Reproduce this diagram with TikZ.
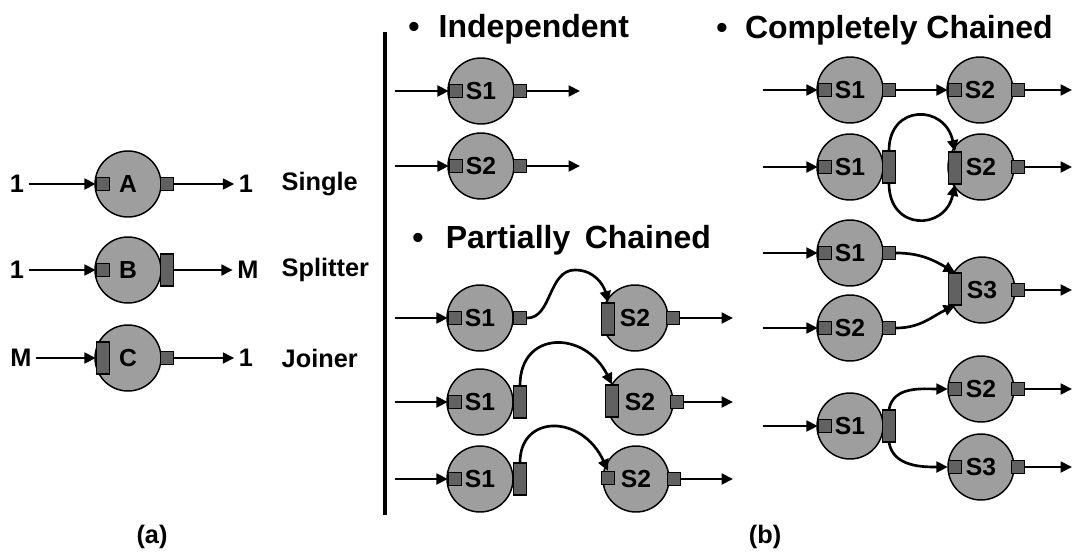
\documentclass[tikz,border=0pt]{standalone}
\usepackage{fontspec}
\setmainfont{Liberation Sans}
\usetikzlibrary{shapes}
\usetikzlibrary{arrows.meta}

\begin{document}
\begin{tikzpicture}[x=0.75pt,y=-0.75pt]
	\tikzstyle{stage}=[circle,draw,line width=1.1pt,fill=black!38,minimum size=49.5pt,inner sep=0pt,font=\bfseries\fontsize{18.5}{20}\selectfont]
	\tikzstyle{port}=[rectangle,draw,line width=0.8pt,fill=black!62,minimum width=10pt,minimum height=10pt,inner sep=0pt]
	\tikzstyle{wideport}=[port,minimum height=24pt]
	\tikzstyle{flow}=[-{Triangle[length=8.5pt,width=8pt]},line width=2pt]
	\tikzstyle{lbl}=[font=\bfseries\fontsize{19}{21}\selectfont]
	\tikzstyle{heading}=[anchor=base west,inner sep=0pt,font=\bfseries\fontsize{24}{27}\selectfont]
	\useasboundingbox (0,0) rectangle (1073,553);

	% (a) the three kinds of stage
	\node[stage] (A) at (128,184) {A};
	\node[port] (A-in) at (103,184) {};
	\node[port] (A-out) at (167,184) {};
	\node[lbl] (A-src) at (17,184) {1};
	\node[lbl] (A-dst) at (246,184) {1};
	\node[lbl,anchor=west] (A-kind) at (277,184) {Single};
	\draw[flow] (A-src) -- (A-in);
	\draw[flow] (A-out) -- (A-dst);

	\node[stage] (B) at (128,270) {B};
	\node[port] (B-in) at (103,270) {};
	\node[wideport] (B-out) at (167,270) {};
	\node[lbl] (B-src) at (17,270) {1};
	\node[lbl] (B-dst) at (248,270) {M};
	\node[lbl,anchor=west] (B-kind) at (277,270) {Splitter};
	\draw[flow] (B-src) -- (B-in);
	\draw[flow] (B-out) -- (B-dst);

	\node[stage] (C) at (128,358) {C};
	\node[wideport] (C-in) at (103,358) {};
	\node[port] (C-out) at (167,358) {};
	\node[lbl] (C-src) at (21,358) {M};
	\node[lbl] (C-dst) at (246,358) {1};
	\node[lbl,anchor=west] (C-kind) at (277,358) {Joiner};
	\draw[flow] (C-src) -- (C-in);
	\draw[flow] (C-out) -- (C-dst);

	\node[lbl] (tag-a) at (152,537) {(a)};

	\draw[line width=3pt] (385,32) -- (385,515);

	% (b) independent stages
	\node[heading] (h-ind) at (408,37) {\textbullet\hspace{0.6em}Independent};
	\foreach \n/\y/\t in {i1/91/S1,i2/166/S2}{
		\node[stage] (\n) at (481,\y) {\t};
		\node[port] (\n-in) at (456,\y) {};
		\node[port] (\n-out) at (520,\y) {};
		\coordinate (\n-src) at (395,\y);
		\coordinate (\n-dst) at (580,\y);
		\draw[flow] (\n-src) -- (\n-in);
		\draw[flow] (\n-out) -- (\n-dst);
	}

	% partially chained
	\node[heading] (h-part) at (412,248) {\textbullet\hspace{0.7em}Partially\hspace{0.45em}Chained};

	\node[stage] (p1a) at (480,318) {S1};
	\node[port] (p1a-in) at (455,318) {};
	\node[port] (p1a-out) at (520,318) {};
	\node[stage] (p1b) at (635,318) {S2};
	\node[wideport] (p1b-in) at (608,319) {};
	\node[port] (p1b-out) at (673,318) {};

	\node[stage] (p2a) at (480,402) {S1};
	\node[port] (p2a-in) at (455,402) {};
	\node[wideport] (p2a-out) at (520,402) {};
	\node[stage] (p2b) at (640,402) {S2};
	\node[wideport] (p2b-in) at (612,401) {};
	\node[port] (p2b-out) at (677,402) {};

	\node[stage] (p3a) at (480,479) {S1};
	\node[port] (p3a-in) at (455,479) {};
	\node[wideport] (p3a-out) at (520,479) {};
	\node[stage] (p3b) at (636,479) {S2};
	\node[port] (p3b-in) at (608,478) {};
	\node[port] (p3b-out) at (674,479) {};

	\foreach \r/\y in {p1/318,p2/402,p3/479}{
		\coordinate (\r-src) at (395,\y);
		\coordinate (\r-dst) at (733,\y);
		\draw[flow] (\r-src) -- (\r a-in);
		\draw[flow] (\r b-out) -- (\r-dst);
	}
	\draw[flow] (p1a-out.east) .. controls (552,318) and (548,270) .. (575,270)
		.. controls (595,270) and (604,286) .. (p1b-in.north);
	\draw[flow] (p2a-out.north) .. controls (520,330) and (585,330) .. (p2b-in.north);
	\draw[flow] (p3a-out.north) .. controls (520,414) and (582,414) .. (p3b-in.north);

	% completely chained
	\node[heading] (h-comp) at (716,38) {\textbullet\hspace{0.55em}Completely Chained};

	\node[stage] (c1a) at (850,90) {S1};
	\node[port] (c1a-in) at (825,90) {};
	\node[port] (c1a-out) at (889,90) {};
	\node[stage] (c1b) at (980,90) {S2};
	\node[port] (c1b-in) at (955,90) {};
	\node[port] (c1b-out) at (1018,90) {};
	\coordinate (c1-src) at (763,90);
	\coordinate (c1-dst) at (1072,90);
	\draw[flow] (c1-src) -- (c1a-in);
	\draw[flow] (c1a-out) -- (c1b-in);
	\draw[flow] (c1b-out) -- (c1-dst);

	\node[stage] (c2a) at (850,167) {S1};
	\node[port] (c2a-in) at (825,167) {};
	\node[wideport] (c2a-out) at (889,167) {};
	\node[stage] (c2b) at (981,167) {S2};
	\node[wideport] (c2b-in) at (955,168) {};
	\node[port] (c2b-out) at (1018,167) {};
	\coordinate (c2-src) at (763,167);
	\coordinate (c2-dst) at (1072,167);
	\draw[flow] (c2-src) -- (c2a-in);
	\draw[flow] (c2b-out) -- (c2-dst);
	\draw[flow] (c2a-out.north) .. controls (889,104) and (945,104) .. (c2b-in.north);
	\draw[flow] (c2a-out.south) .. controls (889,231) and (945,231) .. (c2b-in.south);

	% joining two streams
	\node[stage] (j1) at (850,253) {S1};
	\node[port] (j1-in) at (825,253) {};
	\node[port] (j1-out) at (889,253) {};
	\node[stage] (j2) at (850,328) {S2};
	\node[port] (j2-in) at (825,328) {};
	\node[port] (j2-out) at (889,328) {};
	\node[stage] (j3) at (982,290) {S3};
	\node[wideport] (j3-in) at (955,289) {};
	\node[port] (j3-out) at (1018,290) {};
	\coordinate (j1-src) at (763,253);
	\coordinate (j2-src) at (763,328);
	\coordinate (j3-dst) at (1072,290);
	\draw[flow] (j1-src) -- (j1-in);
	\draw[flow] (j2-src) -- (j2-in);
	\draw[flow] (j3-out) -- (j3-dst);
	\draw[flow] (j1-out.east) to[out=0,in=150] (j3-in.north);
	\draw[flow] (j2-out.east) to[out=0,in=205] (j3-in.south);

	% splitting one stream
	\node[stage] (k1) at (850,426) {S1};
	\node[port] (k1-in) at (825,426) {};
	\node[wideport] (k1-out) at (889,426) {};
	\node[stage] (k2) at (981,389) {S2};
	\node[port] (k2-in) at (955,389) {};
	\node[port] (k2-out) at (1018,389) {};
	\node[stage] (k3) at (981,467) {S3};
	\node[port] (k3-in) at (955,467) {};
	\node[port] (k3-out) at (1018,467) {};
	\coordinate (k1-src) at (763,426);
	\coordinate (k2-dst) at (1072,389);
	\coordinate (k3-dst) at (1072,467);
	\draw[flow] (k1-src) -- (k1-in);
	\draw[flow] (k2-out) -- (k2-dst);
	\draw[flow] (k3-out) -- (k3-dst);
	\draw[flow] (k1-out.north) to[out=80,in=180] (k2-in.west);
	\draw[flow] (k1-out.south) to[out=-80,in=180] (k3-in.west);

	\node[lbl] (tag-b) at (765,537) {(b)};
\end{tikzpicture}
\end{document}
